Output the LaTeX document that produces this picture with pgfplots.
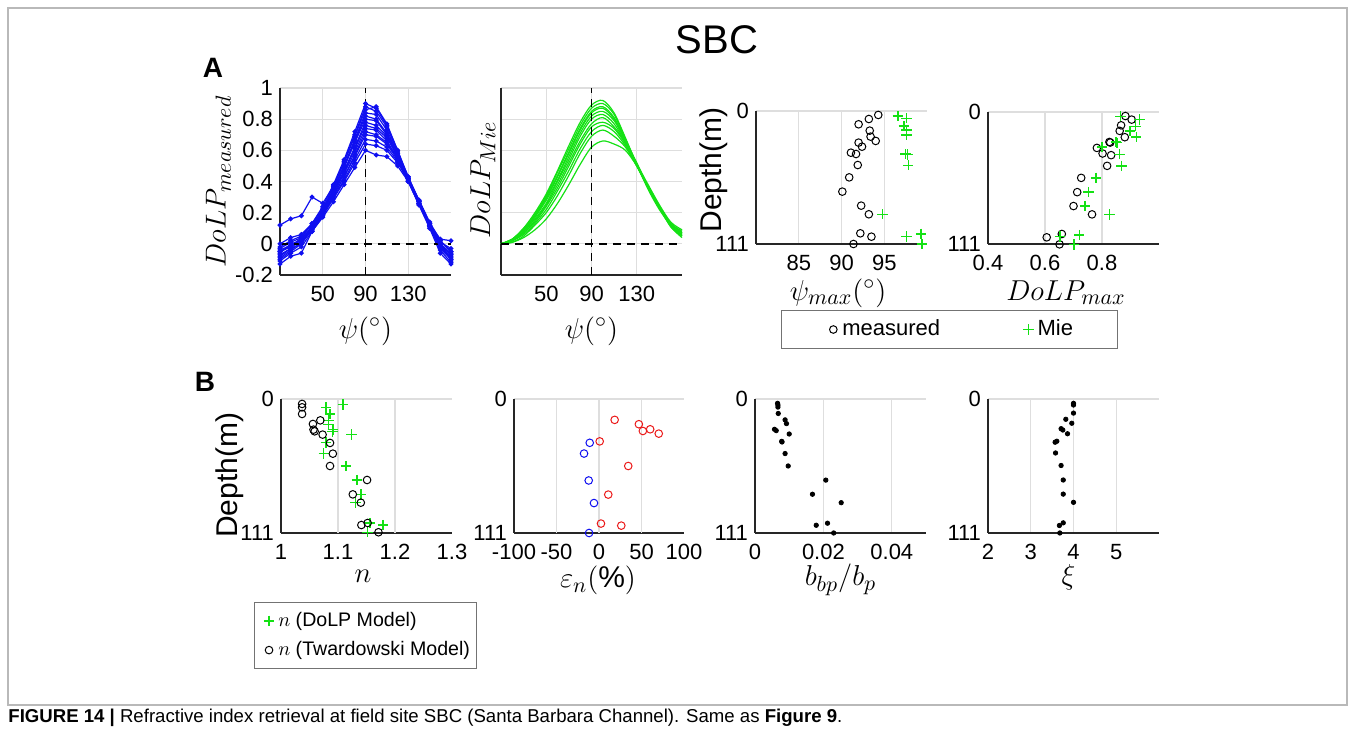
\documentclass[border=0pt]{standalone}
\usepackage{pgfplots}
\pgfplotsset{compat=1.18}
\usepackage{pgfplotstable}
\usepackage{fontspec}
\setmainfont{Liberation Sans}
\definecolor{mgreen}{RGB}{20,225,20}
\definecolor{mblue}{RGB}{15,15,240}
\definecolor{mred}{RGB}{235,25,25}
\definecolor{gridgray}{RGB}{222,222,222}
\definecolor{axgray}{RGB}{38,38,38}

\pgfplotstableread{
x c1 c2 c3 c4 c5 c6 c7 c8 c9 c10 c11 c12 c13 c14
10 -0.05 0.12 -0.10 -0.13 -0.02 -0.07 0.00 -0.04 -0.11 -0.06 -0.09 -0.03 -0.08 -0.05
20 -0.02 0.16 -0.05 -0.08 0.02 -0.03 0.04 -0.01 -0.06 0.00 -0.04 0.01 -0.03 -0.01
30 0.04 0.18 0.00 -0.06 0.05 0.03 0.06 0.03 -0.02 0.02 0.01 0.04 0.00 0.02
40 0.13 0.30 0.10 0.08 0.12 0.11 0.13 0.10 0.08 0.09 0.11 0.10 0.09 0.08
50 0.24 0.26 0.22 0.20 0.22 0.21 0.23 0.20 0.18 0.19 0.20 0.19 0.18 0.17
60 0.38 0.37 0.37 0.36 0.35 0.34 0.34 0.33 0.32 0.31 0.31 0.30 0.29 0.27
70 0.54 0.53 0.52 0.50 0.50 0.49 0.47 0.46 0.45 0.43 0.43 0.41 0.40 0.38
80 0.72 0.70 0.69 0.67 0.66 0.65 0.62 0.61 0.59 0.57 0.56 0.54 0.52 0.49
90 0.90 0.88 0.86 0.84 0.82 0.80 0.78 0.76 0.74 0.72 0.70 0.67 0.64 0.60
100 0.87 0.85 0.88 0.83 0.80 0.79 0.76 0.74 0.73 0.70 0.69 0.66 0.63 0.57
110 0.76 0.75 0.77 0.73 0.71 0.70 0.69 0.68 0.66 0.65 0.64 0.62 0.60 0.56
120 0.60 0.59 0.60 0.58 0.58 0.57 0.56 0.56 0.55 0.55 0.54 0.53 0.52 0.50
130 0.43 0.43 0.42 0.42 0.42 0.41 0.42 0.40 0.41 0.42 0.40 0.40 0.41 0.40
140 0.28 0.27 0.27 0.28 0.27 0.26 0.28 0.25 0.26 0.27 0.25 0.26 0.27 0.26
150 0.13 0.12 0.12 0.14 0.11 0.12 0.13 0.10 0.12 0.13 0.11 0.13 0.12 0.12
160 0.00 0.02 -0.03 0.02 -0.04 -0.02 0.01 -0.06 0.00 0.03 -0.02 0.00 -0.01 0.01
170 -0.07 -0.05 -0.10 -0.05 -0.12 -0.09 -0.03 -0.13 -0.06 0.02 -0.08 -0.10 -0.07 -0.11
}\tabMeas

\pgfplotstableread{
x m1 m2 m3 m4 m5 m6 m7 m8 m9 m10 m11
10 0 0 0 0 0 0 0 0 0 0 0
20 0.03 0.03 0.03 0.03 0.02 0.02 0.02 0.02 0.02 0.01 0.01
30 0.10 0.10 0.09 0.09 0.08 0.08 0.07 0.07 0.06 0.05 0.04
40 0.20 0.19 0.18 0.18 0.17 0.16 0.15 0.14 0.13 0.12 0.09
50 0.32 0.31 0.30 0.29 0.28 0.26 0.25 0.24 0.22 0.20 0.16
60 0.47 0.46 0.44 0.43 0.41 0.40 0.38 0.36 0.34 0.31 0.26
70 0.63 0.61 0.59 0.58 0.56 0.54 0.52 0.50 0.47 0.44 0.38
80 0.78 0.76 0.74 0.73 0.71 0.69 0.66 0.64 0.61 0.58 0.51
90 0.89 0.87 0.85 0.84 0.82 0.80 0.77 0.75 0.72 0.69 0.62
100 0.92 0.90 0.88 0.87 0.85 0.83 0.81 0.78 0.76 0.73 0.66
110 0.84 0.83 0.81 0.80 0.79 0.77 0.75 0.74 0.72 0.69 0.64
120 0.68 0.67 0.67 0.66 0.66 0.65 0.65 0.64 0.63 0.62 0.60
130 0.51 0.51 0.51 0.52 0.51 0.50 0.51 0.50 0.51 0.50 0.50
140 0.36 0.35 0.36 0.37 0.36 0.36 0.37 0.37 0.38 0.37 0.37
150 0.23 0.22 0.23 0.24 0.23 0.24 0.24 0.24 0.25 0.24 0.24
160 0.11 0.12 0.12 0.11 0.13 0.12 0.13 0.13 0.14 0.12 0.13
170 0.04 0.05 0.06 0.05 0.07 0.06 0.08 0.07 0.09 0.06 0.08
}\tabMie

\pgfplotstableread{
v d
94.3 3.3
93.2 6.7
92.0 11.1
93.3 16.4
93.4 21.4
94.0 25.0
92.0 26.4
92.4 29.8
91.1 34.8
91.7 35.9
91.9 45.1
90.9 55.4
90.1 67.3
92.3 79.0
93.2 86.2
92.2 102.1
93.5 104.9
91.4 111
}\tabPsiMeas

\pgfplotstableread{
v d
96.6 4.2
97.6 6.1
97.3 12.5
97.6 15.9
97.6 20.0
97.7 36.2
97.5 35.9
97.8 45.3
94.8 86.2
97.6 104.9
99.3 102.6
99.4 111
}\tabPsiMie

\pgfplotstableread{
v d
0.882 3.4
0.904 6.4
0.867 11.2
0.862 15.9
0.880 21.2
0.826 25.2
0.829 25.7
0.782 30.2
0.802 34.9
0.832 36.3
0.818 45.3
0.727 55.4
0.713 67.4
0.700 79.1
0.765 86.1
0.659 102.6
0.606 105.4
0.651 111.3
}\tabDolpMeas

\pgfplotstableread{
v d
0.865 3.6
0.932 6.4
0.918 12.0
0.898 15.9
0.920 21.0
0.849 25.2
0.852 25.9
0.800 29.4
0.862 35.5
0.868 45.3
0.779 55.4
0.753 67.4
0.740 79.1
0.826 86.1
0.720 103.4
0.653 104.8
0.702 111.5
}\tabDolpMie

\pgfplotstableread{
v d
1.109 4.4
1.079 6.9
1.086 12.4
1.083 17.7
1.083 21.3
1.091 25.4
1.090 26.8
1.124 29.5
1.079 35.9
1.075 45.3
1.114 55.5
1.133 67.1
1.140 79.0
1.131 85.9
1.156 102.7
1.179 104.4
1.152 110.4
}\tabNDolp

\pgfplotstableread{
v d
1.037 4.1
1.037 6.9
1.037 12.4
1.069 17.7
1.056 20.7
1.057 25.4
1.059 26.8
1.073 29.5
1.086 36.4
1.091 45.3
1.086 55.5
1.151 67.1
1.126 79.0
1.140 85.9
1.141 104.4
1.152 102.7
1.171 110.4
}\tabNTw

\pgfplotstableread{
v d
18.4 17.3
46.9 20.9
51.6 26.5
60.2 25.1
70.3 28.7
0.8 35.1
34.4 55.5
10.9 79.2
2.3 103.2
26.2 104.9
}\tabEpsRed

\pgfplotstableread{
v d
-10.9 36.3
-17.6 45.2
-12.1 67.5
-5.9 86.2
-11.7 111.0
}\tabEpsBlue

\pgfplotstableread{
v d
0.0066 3.6
0.0067 5.0
0.0067 6.7
0.0068 12.0
0.0088 17.3
0.0092 20.4
0.0057 25.1
0.0062 26.2
0.0100 29.0
0.0078 35.1
0.0079 35.6
0.0088 45.2
0.0097 55.5
0.0207 67.2
0.0168 78.9
0.0252 85.9
0.0212 102.9
0.0179 104.6
0.0230 111.0
}\tabBb

\pgfplotstableread{
v d
4.0 3.6
4.0 5.0
4.0 11.7
3.82 16.8
3.96 20.1
3.71 24.6
3.75 25.7
3.86 28.8
3.61 35.0
3.57 35.8
3.58 44.7
3.71 55.1
3.76 67.1
3.76 78.8
4.0 85.6
3.76 102.6
3.67 104.8
3.68 111
}\tabXi

\pgfplotsset{
  mystyle/.style={
    scale only axis, anchor=south west,
    axis x line*=bottom, axis y line*=left,
    axis line style={axgray, line width=0.9pt},
    xmajorgrids=true, ymajorgrids=true,
    major grid style={gridgray, line width=0.6pt},
    major tick length=0pt,
    tick label style={font=\fontsize{11}{12}\selectfont, text=black},
    xticklabel style={yshift=-4.5pt, inner ysep=1pt},
    /pgf/number format/assume math mode=true,
    clip=false,
    label style={font=\fontsize{15}{17}\selectfont, inner sep=0pt},
  },
  depth/.style={mystyle, ymin=-111, ymax=0, ytick={-111,0}, yticklabels={111,0},
    width=85.5pt, height=67pt},
  circ/.style={only marks, mark=o, mark size=1.9pt, black, line width=0.5pt},
  plus/.style={only marks, mark=+, mark size=2.6pt, mgreen, line width=0.7pt},
  dot/.style={only marks, mark=*, mark size=1.1pt, black},
  lgimg/.style={legend image code/.code={\path (0cm,0cm) (0.28cm,0cm); \draw[##1] plot coordinates {(0.2cm,0cm)};}},
}

\begin{document}
\begin{tikzpicture}
\useasboundingbox (0,0) rectangle (677.5pt,366pt);
\draw[gray!55, line width=0.6pt] (4pt,362pt) rectangle (673.5pt,13.5pt);
\node[font=\fontsize{20}{24}\selectfont] at (358.5pt,346pt) {SBC};
\node[font=\fontsize{14}{16}\selectfont\bfseries] at (106.5pt,332pt) {A};
\node[font=\fontsize{14}{16}\selectfont\bfseries] at (102.5pt,175pt) {B};
\node[anchor=west, font=\fontsize{9.3}{11}\selectfont, inner sep=0pt] at (4pt,7pt)
  {\textbf{FIGURE 14 |} Refractive index retrieval at field site SBC (Santa Barbara Channel). Same as \textbf{Figure 9}.};

% ---------- A1 ----------
\begin{axis}[mystyle, at={(140pt,228.5pt)}, width=85.5pt, height=93.5pt,
  xmin=10, xmax=170, ymin=-0.2, ymax=1,
  xtick={50,90,130}, ytick={-0.2,0,0.2,0.4,0.6,0.8,1},
  ylabel={$DoLP_{measured}$},
  ylabel style={at={(axis description cs:-0.36,0.5)}, anchor=center},
  xlabel={$\psi(^\circ)$},
  xlabel style={at={(axis description cs:0.5,-0.30)}, anchor=center}]
\pgfplotsinvokeforeach{1,...,14}{
  \addplot[mblue, line width=0.6pt, mark=*, mark size=0.9pt] table[x=x, y=c#1] {\tabMeas};
}
\addplot[black, line width=0.8pt, dash pattern=on 4pt off 3pt] coordinates {(90,-0.2) (90,1)};
\addplot[black, line width=0.8pt, dash pattern=on 4pt off 3pt] coordinates {(10,0) (170,0)};
\end{axis}

% ---------- A2 ----------
\begin{axis}[mystyle, at={(250.5pt,228.5pt)}, width=90.5pt, height=93.5pt,
  xmin=10, xmax=170, ymin=-0.2, ymax=1,
  xtick={50,90,130}, ytick={-0.2,0,0.2,0.4,0.6,0.8,1}, yticklabels={,,,,,,},
  ylabel={$DoLP_{Mie}$},
  ylabel style={at={(axis description cs:-0.10,0.51)}, anchor=center},
  xlabel={$\psi(^\circ)$},
  xlabel style={at={(axis description cs:0.5,-0.30)}, anchor=center}]
\pgfplotsinvokeforeach{1,...,11}{
  \addplot[mgreen, line width=0.6pt, smooth] table[x=x, y=m#1] {\tabMie};
}
\addplot[black, line width=0.8pt, dash pattern=on 4pt off 3pt] coordinates {(90,-0.2) (90,1)};
\addplot[black, line width=0.8pt, dash pattern=on 4pt off 3pt] coordinates {(10,0) (170,0)};
\end{axis}

% ---------- A3 ----------
\begin{axis}[depth, at={(378pt,244pt)}, height=66.5pt,
  xmin=80, xmax=100, xtick={85,90,95},
  ylabel={Depth(m)},
  ylabel style={at={(axis description cs:-0.25,0.556)}, anchor=center},
  xlabel={$\psi_{max}(^\circ)$},
  xlabel style={at={(axis description cs:0.48,-0.37)}, anchor=center},
  legend columns=2,
  legend style={at={(axis description cs:1.13,-0.643)}, anchor=center,
    draw=black!55, line width=0.5pt, font=\fontsize{11}{13}\selectfont,
    inner xsep=20pt, inner ysep=3pt,
    /tikz/every even column/.append style={column sep=36pt}}]
\addplot[circ, lgimg] table[x=v, y expr=-\thisrow{d}] {\tabPsiMeas};
\addlegendentry{measured}
\addplot[plus, lgimg] table[x=v, y expr=-\thisrow{d}] {\tabPsiMie};
\addlegendentry{Mie}
\end{axis}

% ---------- A4 ----------
\begin{axis}[depth, at={(494pt,244pt)}, height=66pt,
  xmin=0.4, xmax=1.0, xtick={0.4,0.6,0.8}, xticklabels={0.4,0.6,0.8},
  xlabel={$DoLP_{max}$},
  xlabel style={at={(axis description cs:0.456,-0.37)}, anchor=center}]
\addplot[circ] table[x=v, y expr=-\thisrow{d}] {\tabDolpMeas};
\addplot[plus] table[x=v, y expr=-\thisrow{d}] {\tabDolpMie};
\end{axis}

% ---------- B1 ----------
\begin{axis}[depth, at={(140.5pt,99.5pt)},
  xmin=1, xmax=1.3, xtick={1,1.1,1.2,1.3}, xticklabels={1,1.1,1.2,1.3},
  xmajorgrids=false, extra x ticks={1.1,1.2}, extra x tick labels={},
  extra x tick style={xmajorgrids=true},
  ylabel={Depth(m)},
  ylabel style={at={(axis description cs:-0.30,0.43)}, anchor=center},
  xlabel={$n$},
  xlabel style={at={(axis description cs:0.48,-0.32)}, anchor=center},
  legend cell align=left,
  legend style={at={(axis description cs:0.494,-0.765)}, anchor=center,
    draw=black!55, line width=0.5pt, font=\fontsize{9.8}{11}\selectfont,
    inner xsep=1pt, inner ysep=3pt, row sep=2pt}]
\addplot[plus, lgimg] table[x=v, y expr=-\thisrow{d}] {\tabNDolp};
\addlegendentry{$n$ (DoLP Model)}
\addplot[circ, lgimg] table[x=v, y expr=-\thisrow{d}] {\tabNTw};
\addlegendentry{$n$ (Twardowski Model)}
\end{axis}

% ---------- B2 ----------
\begin{axis}[depth, at={(257pt,99.5pt)}, width=85pt,
  xmin=-100, xmax=100, xtick={-100,-50,0,50,100},
  xmajorgrids=false, extra x ticks={-50,0,50}, extra x tick labels={},
  extra x tick style={xmajorgrids=true},
  xlabel={$\varepsilon_n(\%)$},
  xlabel style={at={(axis description cs:0.494,-0.355)}, anchor=center}]
\addplot[only marks, mark=o, mark size=1.9pt, mred, line width=0.5pt] table[x=v, y expr=-\thisrow{d}] {\tabEpsRed};
\addplot[only marks, mark=o, mark size=1.9pt, mblue, line width=0.5pt] table[x=v, y expr=-\thisrow{d}] {\tabEpsBlue};
\end{axis}

% ---------- B3 ----------
\begin{axis}[depth, at={(377.5pt,99.5pt)},
  xmin=0, xmax=0.05, xtick={0,0.02,0.04}, xticklabels={0,0.02,0.04},
  scaled x ticks=false,
  xlabel={$b_{bp}/b_p$},
  xlabel style={at={(axis description cs:0.5,-0.35)}, anchor=center}]
\addplot[dot] table[x=v, y expr=-\thisrow{d}] {\tabBb};
\end{axis}

% ---------- B4 ----------
\begin{axis}[depth, at={(494pt,99.5pt)},
  xmin=2, xmax=6, xtick={2,3,4,5},
  xlabel={$\xi$},
  xlabel style={at={(axis description cs:0.47,-0.33)}, anchor=center}]
\addplot[dot] table[x=v, y expr=-\thisrow{d}] {\tabXi};
\end{axis}
\end{tikzpicture}
\end{document}
